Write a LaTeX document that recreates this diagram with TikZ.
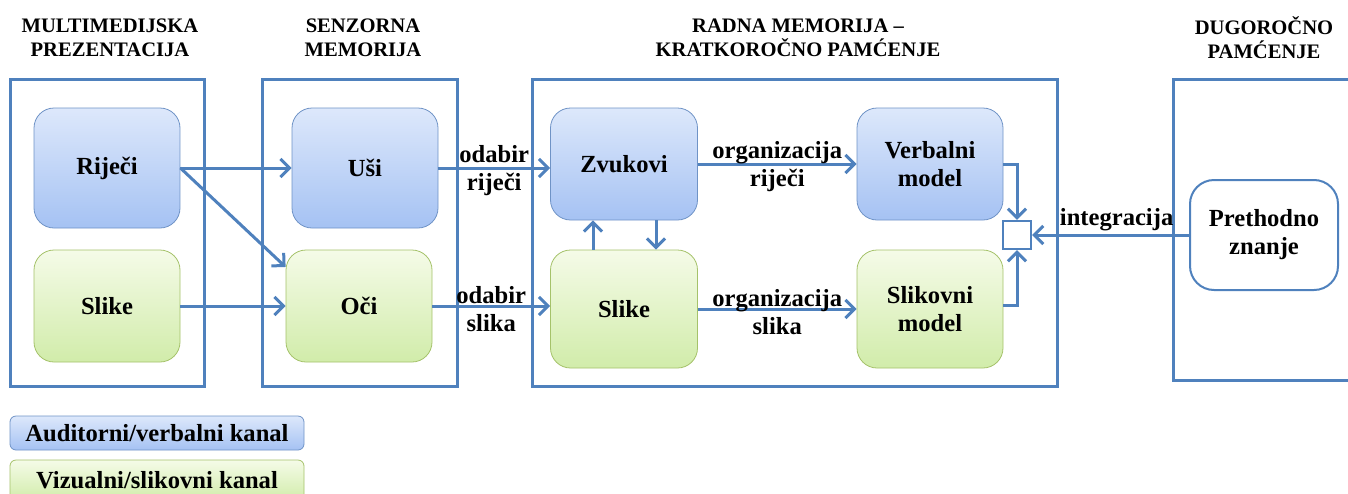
\documentclass[tikz,border=0pt]{standalone}
\usepackage{fontspec}
\setmainfont{Liberation Serif}
\usepackage{xcolor}
\usepackage{tikz}
\usetikzlibrary{arrows.meta}

\definecolor{lineblue}{HTML}{4F81BD}
\definecolor{vtop}{HTML}{DDE8FB}
\definecolor{vbottom}{HTML}{A5C2F3}
\definecolor{vborder}{HTML}{6F93C6}
\definecolor{gtop}{HTML}{F5FBE8}
\definecolor{gbottom}{HTML}{D1ECAA}
\definecolor{gborder}{HTML}{A5C26A}

\begin{document}
\begin{tikzpicture}[x=0.5pt, y=-0.5pt,
    every node/.style={font=\bfseries\fontsize{12.3}{14}\selectfont, align=center},
    head/.style={font=\bfseries\fontsize{10.3}{12}\selectfont},
    verbal/.style={draw=vborder, top color=vtop, bottom color=vbottom, rounded corners=10pt, minimum width=73pt, inner sep=0pt},
    visual/.style={draw=gborder, top color=gtop, bottom color=gbottom, rounded corners=10pt, minimum width=73pt, inner sep=0pt},
    panel/.style={draw=lineblue, line width=1.5pt},
    flow/.style={draw=lineblue, line width=1.5pt, -{Straight Barb[length=4.5pt, width=9pt]}},
    lbl/.style={yshift=-1.5pt}]
            \useasboundingbox (0,0) rectangle (1348,493);

            % headings
            \node[head] (hmulti) at (110,38) {MULTIMEDIJSKA\\PREZENTACIJA};
            \node[head] (hsenz) at (363,38) {SENZORNA\\MEMORIJA};
            \node[head] (hradna) at (798,38) {RADNA MEMORIJA –\\KRATKOROČNO PAMĆENJE};
            \node[head] (hdugo) at (1264,38) {DUGOROČNO\\PAMĆENJE};

            % panels
            \draw[panel] (10,79) rectangle (204,386);
            \draw[panel] (262,79) rectangle (457,386);
            \draw[panel] (532,79) rectangle (1057,386);
            \draw[panel] (1360,79) -- (1173,79) -- (1173,380) -- (1360,380);

            % multimedia
            \node[verbal, minimum height=60pt] (rijeci) at (107,168) {Riječi};
            \node[visual, minimum height=56pt] (slike) at (107,306) {Slike};
            % sensory
            \node[verbal, minimum height=60pt] (usi) at (365,168) {Uši};
            \node[visual, minimum height=56pt] (oci) at (359,306) {Oči};
            % working memory
            \node[verbal, minimum height=56pt, minimum width=73.5pt] (zvukovi) at (624,164) {Zvukovi};
            \node[visual, minimum height=59pt, minimum width=73.5pt] (slikewm) at (624,309) {Slike};
            \node[verbal, minimum height=56pt] (verbalni) at (930,164) {Verbalni\\model};
            \node[visual, minimum height=59pt] (slikovni) at (930,309) {Slikovni\\model};
            \node[draw=lineblue, line width=1.2pt, fill=white, minimum size=14pt, inner sep=0pt] (integ) at (1017,235) {};
            % long-term memory
            \node[draw=lineblue, line width=1pt, rounded corners=12pt, minimum width=74pt, minimum height=55pt] (prethodno) at (1264,235) {Prethodno\\znanje};

            % legend
            \node[verbal, rounded corners=3pt, minimum width=147pt, minimum height=17pt] (audkanal) at (157,433) {Auditorni/verbalni kanal};
            \node[visual, rounded corners=3pt, minimum width=147pt, minimum height=20pt] (vizkanal) at (157,480) {Vizualni/slikovni kanal};

            \draw[flow] (rijeci.east) -- (usi.west); % rijeci-usi
            \draw[flow] (rijeci.east) -- (oci.152); % rijeci-oci
            \draw[flow] (slike.east) -- (oci.west); % slike-oci
            \draw[flow] (usi.east) -- node[lbl]{odabir\\riječi} (usi.east -| zvukovi.west); % usi-zvukovi
            \draw[flow] (oci.east) -- node[lbl]{odabir\\slika} (oci.east -| slikewm.west); % oci-slike
            \draw[flow] (zvukovi.east) -- node[lbl]{organizacija\\riječi} (verbalni.west); % zvukovi-verbalni
            \draw[flow] (slikewm.east) -- node[lbl]{organizacija\\slika} (slikovni.west); % slike-slikovni
            \draw[flow] ([xshift=-15.5pt]slikewm.north) -- ([xshift=-15.5pt]zvukovi.south); % slike-zvukovi
            \draw[flow] ([xshift=16pt]zvukovi.south) -- ([xshift=16pt]slikewm.north); % zvukovi-slike
            \draw[flow] (verbalni.east) -| (integ.north); % verbalni-integ
            \draw[flow] ([yshift=2pt]slikovni.east) -| (integ.south); % slikovni-integ
            \draw[flow] (prethodno.west) -- node[above, inner sep=1.5pt, xshift=3pt]{integracija} (integ.east); % prethodno-integ
        \end{tikzpicture}
\end{document}
